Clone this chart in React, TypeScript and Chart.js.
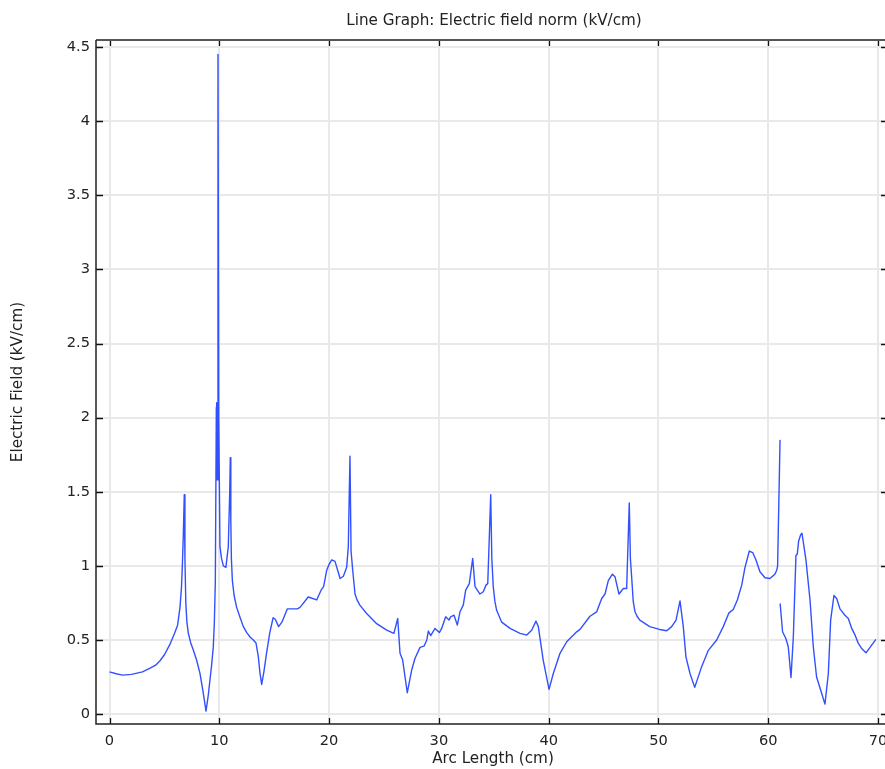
import React, { useEffect, useRef } from "react";
import { Chart, registerables } from "chart.js";

Chart.register(...registerables);

const chartTitle = "Line Graph: Electric field norm (kV/cm)";
const xAxisTitle = "Arc Length (cm)";
const yAxisTitle = "Electric Field (kV/cm)";

const xTickValues = [0, 10, 20, 30, 40, 50, 60, 70];
const yTickValues = [0, 0.5, 1, 1.5, 2, 2.5, 3, 3.5, 4, 4.5];

// segment 1 (arc length cm, field kV/cm)
const arcLength1 = [
  0, 0.6, 1.2, 2.0, 3.0, 3.7, 4.2, 4.6, 5.0, 5.5, 5.9, 6.2, 6.42, 6.55, 6.63, 6.72, 6.81, 6.87, 6.95, 7.05,
  7.18, 7.4, 7.64, 7.95, 8.24, 8.5, 8.79, 9.0, 9.15, 9.3, 9.45, 9.55, 9.64, 9.73, 9.76, 9.8, 9.88, 9.95, 10.06,
  10.2, 10.37, 10.6, 10.82, 10.95, 11.0, 11.05, 11.1, 11.19, 11.35, 11.58, 11.9, 12.19, 12.5, 12.8, 13.1, 13.34,
  13.55, 13.7, 13.86, 14.05, 14.3, 14.6, 14.9, 15.1, 15.4, 15.7, 16.2, 17.1, 17.35, 18.1, 18.87, 19.3, 19.5,
  19.78, 20.0, 20.24, 20.54, 21.0, 21.3, 21.6, 21.75, 21.9, 22.0, 22.15, 22.36, 22.55, 22.8,
  23.4, 24.33, 25.25, 25.9, 26.25, 26.46, 26.7, 27.12, 27.52, 27.82, 28.28, 28.64, 28.9, 29.04, 29.25, 29.65,
  30.04, 30.25, 30.62, 30.92, 31.07, 31.38, 31.68, 31.92, 32.22, 32.44, 32.77, 33.08, 33.29, 33.74, 34.04,
  34.29, 34.45, 34.72, 34.82, 34.95, 35.1, 35.26, 35.72, 36.48, 37.39, 38.0, 38.45, 38.84, 39.05, 39.5, 40.03,
  40.42, 41.03, 41.64, 42.55, 42.85, 43.76, 44.37, 44.83, 45.13, 45.43, 45.8, 46.04, 46.4, 46.8, 47.1, 47.34,
  47.44, 47.56, 47.7, 47.86, 48.05, 48.3, 49.2, 50.1, 50.75, 51.2, 51.6, 51.96, 52.26, 52.5, 52.87, 53.3, 53.93,
  54.54, 55.3, 55.9, 56.42, 56.81, 57.18, 57.58, 57.88, 58.27, 58.58, 58.88, 59.24, 59.7, 60.15, 60.6, 60.77,
  60.85, 61.07,
];
const field1 = [
  0.285, 0.272, 0.263, 0.268, 0.285, 0.31, 0.33, 0.36, 0.4, 0.47, 0.54, 0.6, 0.72, 0.85, 0.99, 1.2, 1.48, 1.05,
  0.75, 0.62, 0.545, 0.48, 0.43, 0.36, 0.275, 0.16, 0.02, 0.13, 0.23, 0.33, 0.45, 0.62, 0.9, 2.07, 2.1, 1.58,
  4.45, 2.0, 1.13, 1.05, 1.0, 0.99, 1.13, 1.5, 1.73, 1.3, 1.05, 0.9, 0.8, 0.72, 0.65, 0.59, 0.55, 0.52, 0.5, 0.48,
  0.39, 0.28, 0.2, 0.28, 0.41, 0.55, 0.65, 0.64, 0.59, 0.62, 0.71, 0.71, 0.72, 0.79, 0.77, 0.84, 0.86, 0.97, 1.01,
  1.04, 1.03, 0.915, 0.93, 0.99, 1.13, 1.74, 1.1, 0.97, 0.81, 0.77, 0.735, 0.68, 0.61, 0.566, 0.544,
  0.645, 0.41, 0.364, 0.144, 0.297, 0.375, 0.45, 0.458, 0.5, 0.56, 0.53, 0.578, 0.55, 0.578, 0.656, 0.634,
  0.656, 0.667, 0.6, 0.69, 0.735, 0.836, 0.88, 1.05, 0.86, 0.81, 0.825, 0.87, 0.88, 1.48, 1.05, 0.86, 0.76, 0.7,
  0.62, 0.578, 0.544, 0.533, 0.566, 0.627, 0.593, 0.364, 0.167, 0.274, 0.41, 0.488, 0.555, 0.571, 0.66, 0.69,
  0.78, 0.81, 0.9, 0.944, 0.926, 0.81, 0.847, 0.847, 1.425, 1.05, 0.92, 0.76, 0.69, 0.66, 0.634, 0.59, 0.571,
  0.562, 0.59, 0.634, 0.764, 0.59, 0.386, 0.274, 0.18, 0.32, 0.43, 0.5, 0.59, 0.683, 0.706, 0.77, 0.87, 0.99,
  1.1, 1.09, 1.04, 0.96, 0.92, 0.915, 0.944, 0.97, 1.0, 1.85,
];

// segment 2
const arcLength2 = [
  61.08, 61.3, 61.6, 61.82, 62.07, 62.28, 62.52, 62.64, 62.77, 62.95, 63.07, 63.19, 63.43, 63.8, 64.1, 64.4,
  64.86, 65.16, 65.47, 65.68, 65.98, 66.23, 66.53, 66.98, 67.29, 67.6, 67.9, 68.2, 68.5, 68.9, 69.8,
];
const field2 = [
  0.746, 0.555, 0.51, 0.454, 0.247, 0.52, 1.07, 1.08, 1.17, 1.21, 1.22, 1.16, 1.04, 0.77, 0.454, 0.25, 0.14,
  0.067, 0.274, 0.634, 0.8, 0.78, 0.71, 0.667, 0.645, 0.578, 0.533, 0.477, 0.443, 0.413, 0.504,
];

const FONT = '"DejaVu Sans", "Liberation Sans", sans-serif';
const TICK_SIZE = 14.6;
const TITLE_SIZE = 15.2;

const decorPlugin = {
  id: "decor",
  afterDatasetsDraw(chart: any) {
    const { ctx, chartArea, scales } = chart;
    const { left, top, right, bottom } = chartArea;
    const xs = scales.x;
    const ys = scales.y;
    ctx.save();
    ctx.strokeStyle = "#111";
    ctx.lineWidth = 1.3;
    ctx.beginPath();
    for (const v of xTickValues) {
      const px = Math.round(xs.getPixelForValue(v)) + 0.5;
      ctx.moveTo(px, top);
      ctx.lineTo(px, top + 6);
      ctx.moveTo(px, bottom);
      ctx.lineTo(px, bottom - 6);
    }
    for (const v of yTickValues) {
      const py = Math.round(ys.getPixelForValue(v)) + 0.5;
      ctx.moveTo(left, py);
      ctx.lineTo(left + 7, py);
      ctx.moveTo(right, py);
      ctx.lineTo(right - 4, py);
    }
    ctx.stroke();
    ctx.strokeStyle = "#555";
    ctx.lineWidth = 2;
    ctx.beginPath();
    ctx.moveTo(left, top);
    ctx.lineTo(right, top);
    ctx.stroke();
    ctx.strokeStyle = "#222";
    ctx.lineWidth = 1.5;
    ctx.beginPath();
    ctx.moveTo(left, top);
    ctx.lineTo(left, bottom);
    ctx.lineTo(right, bottom);
    ctx.stroke();
    ctx.restore();
  },
  afterDraw(chart: any) {
    const { ctx, chartArea } = chart;
    ctx.save();
    ctx.fillStyle = "#222";
    ctx.font = `${TITLE_SIZE}px ${FONT}`;
    ctx.textAlign = "center";
    ctx.textBaseline = "middle";
    ctx.fillText(chartTitle, 494, 21);
    ctx.fillText(xAxisTitle, 493, 759);
    ctx.translate(18, (chartArea.top + chartArea.bottom) / 2);
    ctx.rotate(-Math.PI / 2);
    ctx.fillText(yAxisTitle, 0, 0);
    ctx.restore();
  },
};

export default function App() {
  const ref = useRef<HTMLCanvasElement | null>(null);
  useEffect(() => {
    if (!ref.current) return;
    const seg1 = arcLength1.map((x, i) => ({ x, y: field1[i] }));
    const seg2 = arcLength2.map((x, i) => ({ x, y: field2[i] }));
    const data = [...seg1, { x: 61.075, y: null as any }, ...seg2];
    const chart = new Chart(ref.current, {
      type: "line",
      data: {
        datasets: [
          {
            data,
            borderColor: "rgb(50, 80, 255)",
            borderWidth: 1.4,
            borderJoinStyle: "round",
            pointRadius: 0,
            tension: 0,
            spanGaps: false,
            fill: false,
          },
        ],
      },
      options: {
        responsive: false,
        animation: false,
        events: [],
        layout: { padding: { top: 40, left: 0, right: 0, bottom: 0 } },
        plugins: { legend: { display: false }, title: { display: false }, tooltip: { enabled: false } },
        scales: {
          x: {
            type: "linear",
            min: -1.23,
            max: 70.63,
            afterBuildTicks: (s: any) => {
              s.ticks = xTickValues.map((v) => ({ value: v }));
            },
            afterFit: (s: any) => {
              s.height = 45;
              s.paddingLeft = 0;
              s.paddingRight = 0;
            },
            grid: { color: "#e9e9e9", lineWidth: 2, drawTicks: false },
            border: { display: false },
            ticks: {
              padding: 8,
              maxRotation: 0,
              autoSkip: false,
              color: "#222",
              font: { family: FONT, size: TICK_SIZE },
              callback: (v: any) => String(v),
            },
          },
          y: {
            type: "linear",
            min: -0.067,
            max: 4.548,
            afterBuildTicks: (s: any) => {
              s.ticks = yTickValues.map((v) => ({ value: v }));
            },
            afterFit: (s: any) => {
              s.width = 96;
              s.paddingTop = 0;
              s.paddingBottom = 0;
            },
            grid: { color: "#e9e9e9", lineWidth: 2, drawTicks: false },
            border: { display: false },
            ticks: {
              padding: 6,
              autoSkip: false,
              color: "#222",
              font: { family: FONT, size: TICK_SIZE },
              callback: (v: any) => String(v),
            },
          },
        },
      },
      plugins: [decorPlugin],
    });
    return () => chart.destroy();
  }, []);
  return (
    <div style={{ position: "absolute", left: 0, top: 0, width: 885, height: 769, background: "#fff" }}>
      <canvas ref={ref} width={885} height={769} style={{ display: "block" }} />
    </div>
  );
}
